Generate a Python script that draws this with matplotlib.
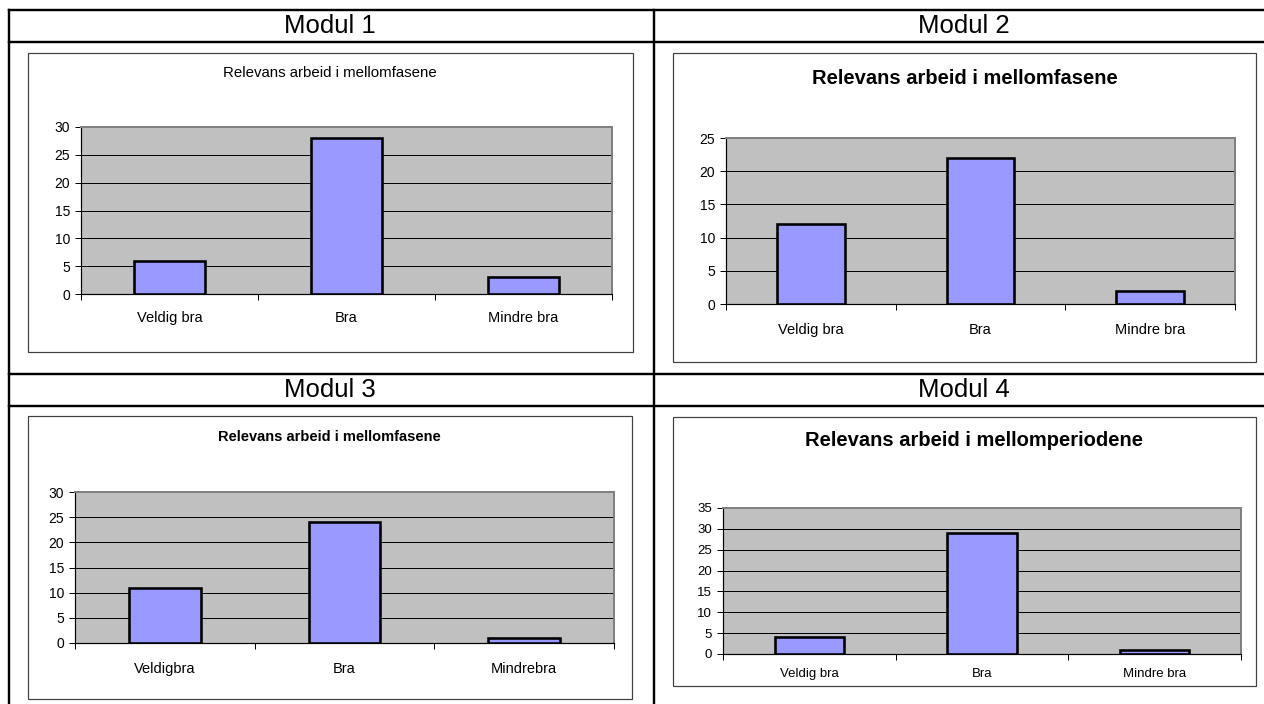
import matplotlib
matplotlib.use("Agg")
import matplotlib.pyplot as plt
from matplotlib.lines import Line2D
from matplotlib.patches import Rectangle

plt.rcParams['font.family'] = ['Liberation Sans', 'DejaVu Sans']

# ---- data ----
categories = ["Veldig bra", "Bra", "Mindre bra"]
categories_m3 = ["Veldigbra", "Bra", "Mindrebra"]
modules = ["Modul 1", "Modul 2", "Modul 3", "Modul 4"]
titles = ["Relevans arbeid i mellomfasene",
          "Relevans arbeid i mellomfasene",
          "Relevans arbeid i mellomfasene",
          "Relevans arbeid i mellomperiodene"]
values_m1 = [6, 28, 3]
values_m2 = [12, 22, 2]
values_m3 = [11, 24, 1]
values_m4 = [4, 29, 1]
ymax_list = [30, 25, 30, 35]

W, H = 1264, 704
fig = plt.figure(figsize=(W / 100, H / 100), dpi=100)
PX = 0.72  # points per pixel


def fx(x):
    return x / W


def fy(y):
    return 1 - y / H


# ---- table grid ----
tbl_lw = 2.4 * PX
for y in [10, 42, 374, 406]:
    fig.add_artist(Line2D([fx(9), 1.0], [fy(y), fy(y)], color='black', lw=tbl_lw))
for x in [9, 654]:
    fig.add_artist(Line2D([fx(x), fx(x)], [fy(10), 0.0], color='black', lw=tbl_lw))

# header texts
header_pos = [(330, 26), (964, 26), (330, 390), (964, 390)]
for name, (x, y) in zip(modules, header_pos):
    fig.text(fx(x), fy(y), name, ha='center', va='center', fontsize=18.5)

# ---- chart specs ----
chart_boxes = [(28, 53, 633, 352), (673, 53, 1256, 362),
               (28, 416, 632, 699), (673, 417, 1256, 686)]
plot_boxes = [(81, 127, 612, 294), (726, 138, 1235, 304),
              (75, 492, 614, 643), (723, 508, 1241, 654)]
title_pos = [(330, 73), (965, 78), (329, 437), (974, 440)]
title_style = [dict(fontsize=10.8, fontweight='normal'),
               dict(fontsize=14.5, fontweight='bold'),
               dict(fontsize=10.5, fontweight='bold'),
               dict(fontsize=14.5, fontweight='bold')]
label_pads = [12, 14, 14, 10]
label_sizes = [10.5, 10.5, 10.5, 9.5]
tick_sizes = [10, 10, 10, 9.5]
all_values = [values_m1, values_m2, values_m3, values_m4]
all_cats = [categories, categories, categories_m3, categories]

for i in range(4):
    bx0, by0, bx1, by1 = chart_boxes[i]
    fig.add_artist(Rectangle((fx(bx0), fy(by1)), fx(bx1 - bx0), (by1 - by0) / H,
                             transform=fig.transFigure, facecolor='white',
                             edgecolor='#404040', lw=1.2 * PX, zorder=0))
    px0, py0, px1, py1 = plot_boxes[i]
    ax = fig.add_axes([fx(px0), fy(py1), fx(px1 - px0), (py1 - py0) / H])
    ax.set_facecolor('#C0C0C0')
    ax.set_axisbelow(True)
    ymax = ymax_list[i]
    ax.set_ylim(0, ymax)
    ax.set_xlim(-0.5, 2.5)
    ax.set_yticks(list(range(0, ymax + 1, 5)))
    ax.yaxis.grid(True, color='black', lw=1.0 * PX)
    ax.bar(range(len(all_cats[i])), all_values[i], width=0.4, color='#9999FF',
           edgecolor='black', linewidth=2.6 * PX, zorder=3)
    ax.set_xticks(range(3))
    ax.set_xticklabels(all_cats[i], fontsize=label_sizes[i])
    ax.tick_params(axis='x', which='major', length=0, pad=label_pads[i])
    ax.set_xticks([-0.5, 0.5, 1.5, 2.5], minor=True)
    ax.tick_params(axis='x', which='minor', length=4, width=1.0 * PX, direction='out')
    ax.tick_params(axis='y', length=4, width=1.0 * PX, direction='out', pad=4,
                   labelsize=tick_sizes[i])
    for s in ['top', 'right']:
        ax.spines[s].set_color('#808080')
        ax.spines[s].set_linewidth(2.0 * PX)
    for s in ['left', 'bottom']:
        ax.spines[s].set_color('black')
        ax.spines[s].set_linewidth(1.2 * PX)
    tx, ty = title_pos[i]
    fig.text(fx(tx), fy(ty), titles[i], ha='center', va='center', **title_style[i])

fig.savefig("out.png", dpi=100, facecolor='white')
